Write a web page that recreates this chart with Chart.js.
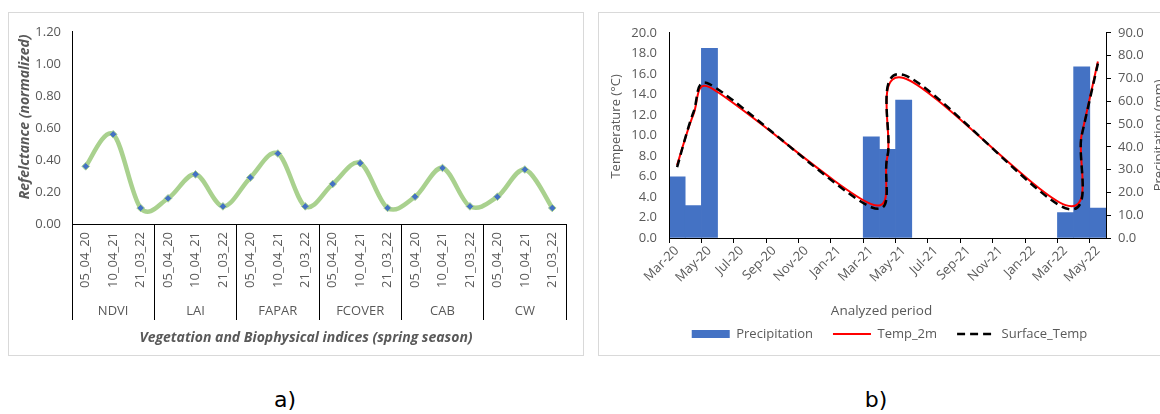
<!DOCTYPE html>
<html>
<head>
<meta charset="utf-8">
<script src="https://cdn.jsdelivr.net/npm/chart.js@4.4.1/dist/chart.umd.min.js"></script>
<style>
  html, body { margin: 0; padding: 0; width: 1160px; height: 414px; overflow: hidden; background: #fff; }
  .panel { position: absolute; border: 1px solid #d9d9d9; background: #fff; }
  #panelA { left: 8px; top: 12px; width: 574px; height: 342px; }
  #panelB { left: 598px; top: 12px; width: 581px; height: 342px; }
  canvas { display: block; }
  .caption { position: absolute; top: 387px; font-family: 'DejaVu Sans', sans-serif; font-size: 22px; color: #000; transform: translateX(-50%); line-height: 26px; }
</style>
</head>
<body>
<div class="panel" id="panelA"><canvas id="chartA" width="574" height="342"></canvas></div>
<div class="panel" id="panelB"><canvas id="chartB" width="581" height="342"></canvas></div>
<div class="caption" style="left:285px">a)</div>
<div class="caption" style="left:876px">b)</div>
<script>
// ---- Panel a: spring-season vegetation / biophysical indices ----
const indexNames = ['NDVI', 'LAI', 'FAPAR', 'FCOVER', 'CAB', 'CW'];
const sceneDates = ['05_04_20', '10_04_21', '21_03_22'];
const ndvi   = [0.36, 0.56, 0.10];
const lai    = [0.16, 0.31, 0.11];
const fapar  = [0.29, 0.44, 0.11];
const fcover = [0.25, 0.38, 0.10];
const cab    = [0.17, 0.35, 0.11];
const cw     = [0.17, 0.34, 0.10];

// ---- Panel b: monthly climate over the analysed period ----
const monthTickLabels = ['Mar-20', 'May-20', 'Jul-20', 'Sep-20', 'Nov-20', 'Jan-21', 'Mar-21',
                         'May-21', 'Jul-21', 'Sep-21', 'Nov-21', 'Jan-22', 'Mar-22', 'May-22'];
const obsMonths     = ['2020-03', '2020-04', '2020-05', '2021-03', '2021-04', '2021-05', '2022-03', '2022-04', '2022-05'];
const precipitation = [26.8, 14.2, 83.2, 44.4, 38.9, 60.5, 11.2, 75.1, 13.1];
const temp2m        = [7.1, 12.0, 14.7, 3.3, 8.0, 15.6, 3.2, 10.1, 17.2];
const surfaceTemp   = [6.9, 12.2, 15.0, 3.0, 8.0, 15.9, 2.9, 10.0, 17.0];

const TEXT = '#595959';
Chart.defaults.font.family = "'Open Sans', sans-serif";
Chart.defaults.font.size = 13;
Chart.defaults.color = TEXT;

// Smoothed lines: Catmull-Rom style control points (1/6 of the neighbour chord),
// each handle kept within half of the segment it bends.
const smoothLines = {
  id: 'smoothLines',
  beforeDatasetDraw(chart, args) {
    const meta = args.meta;
    if (meta.type !== 'line' || !meta.dataset) return;
    const pts = meta.data;
    const n = pts.length;
    const dist = (a, b) => Math.hypot(b.x - a.x, b.y - a.y);
    for (let i = 0; i < n; i++) {
      const p = pts[i];
      const prev = pts[Math.max(i - 1, 0)];
      const next = pts[Math.min(i + 1, n - 1)];
      const dx = (next.x - prev.x) / 6;
      const dy = (next.y - prev.y) / 6;
      const len = Math.hypot(dx, dy) || 1;
      const kIn = Math.min(1, 0.5 * dist(prev, p) / len);
      const kOut = Math.min(1, 0.5 * dist(p, next) / len);
      p.cp1x = p.x - dx * kIn; p.cp1y = p.y - dy * kIn;
      p.cp2x = p.x + dx * kOut; p.cp2y = p.y + dy * kOut;
    }
    meta.dataset._pointsUpdated = true;
  }
};

// Axis captions drawn relative to the plot area
function axisTitles(items) {
  return {
    id: 'axisTitles',
    afterDraw(chart) {
      const ctx = chart.ctx;
      const a = chart.chartArea;
      items.forEach(t => {
        const [x, y] = t.pos(a);
        ctx.save();
        ctx.translate(x, y);
        ctx.rotate(t.rotate || 0);
        ctx.font = t.font;
        ctx.fillStyle = TEXT;
        ctx.textAlign = 'center';
        ctx.textBaseline = 'middle';
        ctx.fillText(t.text, 0, 0);
        ctx.restore();
      });
    }
  };
}

// ---------- Chart a ----------
const seriesA = [ndvi, lai, fapar, fcover, cab, cw].flat();
const labelsA = indexNames.flatMap(() => sceneDates);

new Chart(document.getElementById('chartA'), {
  type: 'line',
  data: {
    labels: labelsA,
    datasets: [{
      data: seriesA,
      borderColor: '#A9D18E',
      borderWidth: 4.5,
      tension: 0.4,
      pointStyle: 'rectRot',
      pointRadius: 3.8,
      pointBackgroundColor: '#4472C4',
      pointBorderColor: '#A9D18E',
      pointBorderWidth: 1
    }]
  },
  options: {
    responsive: false,
    animation: false,
    devicePixelRatio: 1,
    layout: { padding: { top: 15, right: 17, left: 0, bottom: 0 } },
    plugins: { legend: { display: false }, tooltip: { enabled: false } },
    scales: {
      x: {
        type: 'category', position: 'bottom', weight: 0, offset: true,
        grid: {
          display: true, offset: true, drawOnChartArea: false, drawTicks: true, tickLength: 96, lineWidth: 1,
          color: c => (c.type !== 'tick' || c.index % 3 === 0) ? '#000' : 'rgba(0,0,0,0)'
        },
        border: { display: true, color: '#000', width: 1, z: 1 },
        ticks: { autoSkip: false, minRotation: 90, maxRotation: 90, padding: -88, color: TEXT },
        afterFit: s => { s.height = 66; }
      },
      groups: {
        type: 'category', position: 'bottom', weight: 1, offset: true, labels: indexNames,
        grid: { display: false, drawTicks: false },
        border: { display: false },
        ticks: { padding: 13, autoSkip: false, maxRotation: 0, color: TEXT },
        afterFit: s => { s.height = 65; }
      },
      y: {
        min: 0, max: 1.2,
        ticks: { stepSize: 0.2, padding: 11, callback: v => Number(v).toFixed(2), color: TEXT },
        grid: { display: false, drawTicks: false },
        border: { color: '#000', z: 1 },
        afterFit: s => { s.width = 63; }
      }
    }
  },
  plugins: [smoothLines, axisTitles([
    { text: 'Refelctance (normalized)', font: "italic bold 14px 'Open Sans'", rotate: -Math.PI / 2,
      pos: a => [a.left - 47, (a.top + a.bottom) / 2 - 11] },
    { text: 'Vegetation and Biophysical indices (spring season)', font: "italic bold 14px 'Open Sans'",
      pos: a => [(a.left + a.right) / 2 - 13, a.bottom + 114] }
  ])]
});

// ---------- Chart b ----------
const monthIndex = m => { const [y, mo] = m.split('-').map(Number); return (y - 2020) * 12 + (mo - 3); };
const axisMonths = monthTickLabels.map((_, i) => 2 * i);
const toPoints = vals => obsMonths.map((m, i) => ({ x: monthIndex(m) + 0.5, y: vals[i] }));

new Chart(document.getElementById('chartB'), {
  type: 'bar',
  data: {
    datasets: [
      { type: 'bar', label: 'Precipitation', data: toPoints(precipitation), yAxisID: 'y1',
        backgroundColor: '#4472C4', borderColor: '#4472C4', borderWidth: 0,
        barPercentage: 1, categoryPercentage: 1, order: 2 },
      { type: 'line', label: 'Temp_2m', data: toPoints(temp2m), yAxisID: 'y',
        borderColor: '#FF0000', backgroundColor: '#FF0000', borderWidth: 2,
        pointRadius: 0, tension: 0.4, fill: false, order: 1 },
      { type: 'line', label: 'Surface_Temp', data: toPoints(surfaceTemp), yAxisID: 'y',
        borderColor: '#000000', backgroundColor: '#000000', borderWidth: 2.5, borderDash: [8, 5],
        pointRadius: 0, tension: 0.4, fill: false, order: 0 }
    ]
  },
  options: {
    responsive: false,
    animation: false,
    devicePixelRatio: 1,
    layout: { padding: { top: 17, right: 0, left: 0, bottom: 4.5 } },
    plugins: {
      tooltip: { enabled: false },
      legend: {
        position: 'bottom',
        labels: {
          usePointStyle: true, pointStyleWidth: 38, boxHeight: 8, padding: 20, color: TEXT,
          generateLabels: chart => chart.data.datasets.map((ds, i) => ({
            text: ds.label,
            fillStyle: ds.backgroundColor,
            strokeStyle: ds.borderColor,
            lineWidth: ds.borderWidth,
            lineDash: ds.borderDash || [],
            pointStyle: ds.type === 'bar' ? 'rect' : 'line',
            fontColor: TEXT,
            hidden: false,
            datasetIndex: i
          }))
        }
      }
    },
    scales: {
      x: {
        type: 'linear', position: 'bottom', min: 0, max: 27, offset: false,
        grid: { display: true, offset: false, drawOnChartArea: false, drawTicks: true, tickLength: 5, color: '#000' },
        border: { color: '#000', z: 1 },
        afterBuildTicks: s => { s.ticks = axisMonths.map(v => ({ value: v })); },
        ticks: {
          autoSkip: false, minRotation: 45, maxRotation: 45, padding: 0, labelOffset: 8, color: TEXT,
          callback: (v, i) => monthTickLabels[i]
        },
        afterFit: s => { s.height = 69.5; }
      },
      y: {
        position: 'left', min: 0, max: 20,
        ticks: { stepSize: 2, padding: 12, callback: v => Number(v).toFixed(1), color: TEXT },
        grid: { display: false, drawTicks: false },
        border: { color: '#000', z: 1 },
        afterFit: s => { s.width = 70; }
      },
      y1: {
        position: 'right', min: 0, max: 90,
        ticks: { stepSize: 10, padding: 7, callback: v => Number(v).toFixed(1), color: TEXT },
        grid: { display: true, drawOnChartArea: false, drawTicks: true, tickLength: 5, color: '#000' },
        border: { color: '#000', z: 1 },
        afterFit: s => { s.width = 74; }
      }
    }
  },
  plugins: [smoothLines, axisTitles([
    { text: 'Temperature (°C)', font: "13px 'Open Sans'", rotate: -Math.PI / 2,
      pos: a => [a.left - 53, (a.top + a.bottom) / 2 - 9] },
    { text: 'Precipitation (mm)', font: "13px 'Open Sans'", rotate: -Math.PI / 2,
      pos: a => [a.right + 53, (a.top + a.bottom) / 2] },
    { text: 'Analyzed period', font: "13.5px 'Open Sans'",
      pos: a => [(a.left + a.right) / 2 - 6, a.bottom + 73] }
  ])]
});
</script>
</body>
</html>
